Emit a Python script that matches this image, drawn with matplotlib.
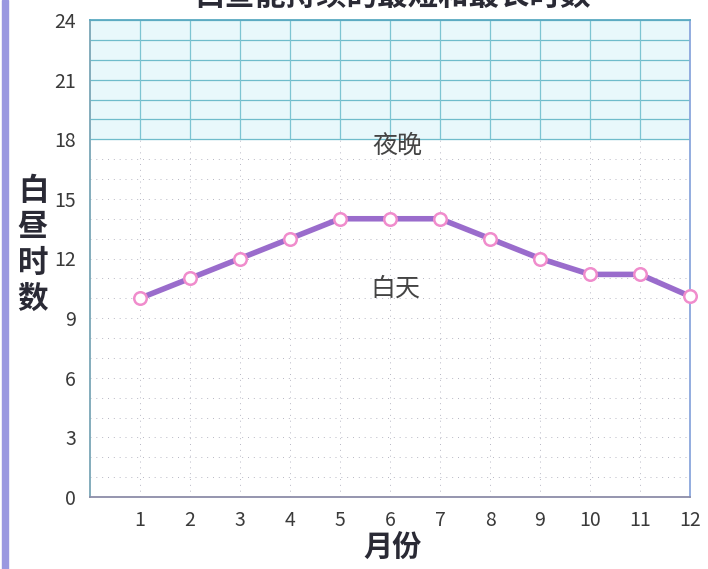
import numpy as np
import matplotlib
matplotlib.use("Agg")
import matplotlib.pyplot as plt
from matplotlib.patches import Rectangle

plt.rcParams['font.family'] = ['Noto Sans CJK SC', 'DejaVu Sans']

# data
months = [1, 2, 3, 4, 5, 6, 7, 8, 9, 10, 11, 12]
day_hours = [10, 11, 12, 13, 14, 14, 14, 13, 12, 11.2, 11.2, 10.1]
y_ticks = [0, 3, 6, 9, 12, 15, 18, 21, 24]
title = "白昼能持续的最短和最长时数"

fig = plt.figure(figsize=(7.08, 5.69), dpi=100)
ax = fig.add_axes([90/708, 72/569, 600/708, 477/569])

# night zone shading and grid
ax.axhspan(18, 24, color='#e8f8fb', zorder=0)
ax.hlines(np.arange(18, 25), 0, 12, color='#6fbccb', lw=0.9, zorder=1)
ax.vlines(months[:-1], 18, 24, color='#7cc4d2', lw=0.9, zorder=1)
ax.hlines(np.arange(1, 18), 0, 12, color='#b8b8c4', lw=0.7, linestyles=(0, (1, 5)), zorder=1)
ax.vlines(months[:-1], 0, 18, color='#b8b8c4', lw=0.7, linestyles=(0, (1, 5)), zorder=1)

ax.plot(months, day_hours, color='#9a6ccc', lw=4, marker='o', ms=9,
        mfc='white', mec='#f08ccc', mew=1.8, zorder=3, clip_on=False)

ax.text(6.15, 17.7, "夜晚", fontsize=18, color='#444444', ha='center', va='center')
ax.text(6.1, 10.5, "白天", fontsize=18, color='#444444', ha='center', va='center')

ax.set_xlim(0, 12)
ax.set_ylim(0, 24)
ax.set_xticks(months)
ax.set_yticks(y_ticks)
ax.tick_params(length=0, labelsize=14, labelcolor='#3a3a3a')
ax.tick_params(axis='x', pad=9)
ax.tick_params(axis='y', pad=10)

ax.spines['left'].set_color('#7aa6b6')
ax.spines['bottom'].set_color('#8c8ca8')
ax.spines['right'].set_color('#8aa6dc')
ax.spines['top'].set_color('#5aaac2')
for s in ax.spines.values():
    s.set_linewidth(1.3)

fig.text(33/708, 1 - 245/569, "白\n昼\n时\n数", fontsize=22, fontweight='bold',
         color='#2a2a35', ha='center', va='center', linespacing=1.15)
fig.text(393/708, 1 - 548/569, "月份", fontsize=21, fontweight='bold',
         color='#2a2a35', ha='center', va='center')
fig.text(392/708, 1 + 4/569, title, fontsize=22, fontweight='bold',
         color='#2a2a35', ha='center', va='center')

# page edge strip from the scan
fig.patches.append(Rectangle((2/708, 0), 6/708, 1, transform=fig.transFigure,
                             color='#9a98e0', zorder=0))

fig.savefig("out.png", dpi=100)
